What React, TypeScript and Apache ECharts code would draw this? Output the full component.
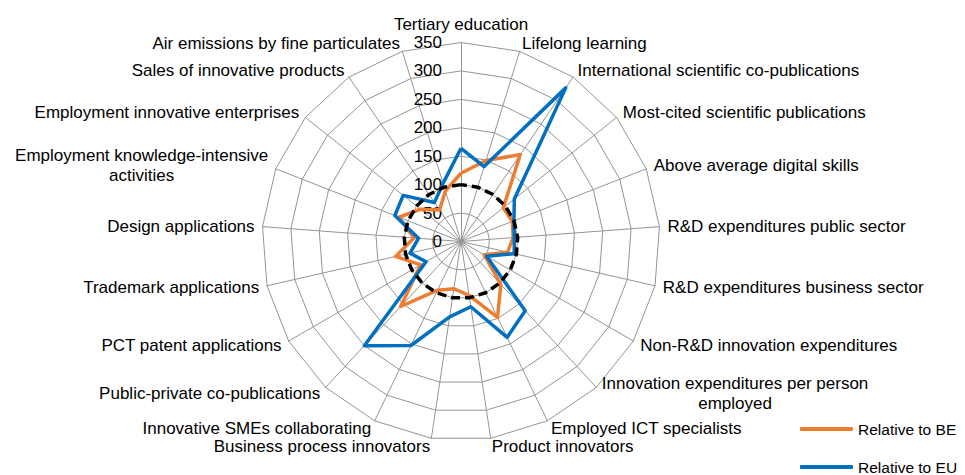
import React, { useEffect, useRef } from 'react';
import * as echarts from 'echarts';

// Indicators in clockwise order starting at the top
const indicatorNames = [
  'Tertiary education',
  'Lifelong learning',
  'International scientific co-publications',
  'Most-cited scientific publications',
  'Above average digital skills',
  'R&D expenditures public sector',
  'R&D expenditures business sector',
  'Non-R&D innovation expenditures',
  'Innovation expenditures per person\nemployed',
  'Employed ICT specialists',
  'Product innovators',
  'Business process innovators',
  'Innovative SMEs collaborating',
  'Public-private co-publications',
  'PCT patent applications',
  'Trademark applications',
  'Design applications',
  'Employment knowledge-intensive\nactivities',
  'Employment innovative enterprises',
  'Sales of innovative products',
  'Air emissions by fine particulates',
];

const relativeToBE = [120, 149, 185, 95, 97, 92, 84, 47, 103, 148, 96, 84, 95, 156, 82, 118, 83, 117, 91, 67, 93];
const relativeToEU = [164, 138, 327, 120, 100, 94, 96, 52, 166, 187, 116, 134, 203, 250, 71, 92, 75, 125, 130, 83, 107];
const reference100 = [100, 100, 100, 100, 100, 100, 100, 100, 100, 100, 100, 100, 100, 100, 100, 100, 100, 100, 100, 100, 100];

const axisMin = 0;
const axisMax = 350;
const axisSplits = 7;

const seriesNames = ['Relative to BE', 'Relative to EU'];

// ECharts places radar indicators counter-clockwise; reorder so they read clockwise.
const displayOrder = [0, 20, 19, 18, 17, 16, 15, 14, 13, 12, 11, 10, 9, 8, 7, 6, 5, 4, 3, 2, 1];
const pick = (arr: any[]) => displayOrder.map((i) => arr[i]);

export default function App() {
  const ref = useRef<HTMLDivElement>(null);
  useEffect(() => {
    const chart = echarts.init(ref.current!, null, { renderer: 'svg' });
    const font = '"Liberation Sans", Arial, sans-serif';
    chart.setOption({
      animation: false,
      backgroundColor: '#ffffff',
      legend: {
        data: seriesNames,
        orient: 'vertical',
        left: 800,
        top: 421,
        height: 120,
        padding: 0,
        itemWidth: 53,
        itemHeight: 4,
        itemGap: 22,
        icon: 'roundRect',
        selectedMode: false,
        textStyle: { fontSize: 15.5, color: '#000', fontFamily: font },
      },
      radar: {
        center: [461, 241.5],
        radius: 199,
        startAngle: 90,
        shape: 'polygon',
        splitNumber: axisSplits,
        axisNameGap: 8,
        axisName: {
          color: '#000',
          fontSize: 17,
          fontFamily: font,
          formatter: (n: string) => n.split('\n').map((l) => `{c|${l}}`).join('\n'),
          rich: {
            c: { align: 'center', fontSize: 17, lineHeight: 20, color: '#000', fontFamily: font },
          },
        },
        indicator: pick(indicatorNames).map((name: string, i: number) =>
          i === 0
            ? {
                name,
                min: axisMin,
                max: axisMax,
                axisLabel: { show: true, margin: 19, fontSize: 17, color: '#000', fontFamily: font },
              }
            : { name, min: axisMin, max: axisMax }
        ),
        axisLine: { lineStyle: { color: '#959595', width: 1 } },
        splitLine: { lineStyle: { color: '#959595', width: 1 } },
        splitArea: { show: false },
        axisTick: { show: false },
        axisLabel: { show: false },
      },
      series: [
        {
          type: 'radar',
          symbol: 'none',
          silent: true,
          data: [
            {
              name: seriesNames[0],
              value: pick(relativeToBE),
              itemStyle: { color: '#ED7D31' },
              lineStyle: { color: '#ED7D31', width: 3.5 },
            },
            {
              name: seriesNames[1],
              value: pick(relativeToEU),
              itemStyle: { color: '#0070C0' },
              lineStyle: { color: '#0070C0', width: 3.5 },
            },
            {
              name: 'Reference',
              value: pick(reference100),
              itemStyle: { color: '#000' },
              lineStyle: { color: '#000', width: 3.5, type: [9, 5] },
            },
          ],
        },
      ],
    });
    return () => chart.dispose();
  }, []);
  return (
    <div
      ref={ref}
      style={{ position: 'fixed', left: 0, top: 0, width: 965, height: 475, background: '#fff' }}
    />
  );
}
